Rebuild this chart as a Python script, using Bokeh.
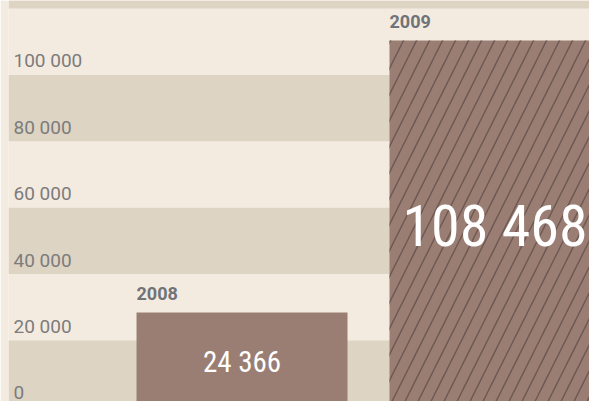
from bokeh.plotting import figure
from bokeh.models import ColumnDataSource, Range1d
from bokeh.core.properties import value
from bokeh.embed import file_html
from bokeh.resources import INLINE

# ---- data ----
YEARS = ["2008", "2009"]
VALUES = [24366, 108468]
TICKS = [0, 20000, 40000, 60000, 80000, 100000]
TICK_LABELS = ["0", "20 000", "40 000", "60 000", "80 000", "100 000"]
BAND_STARTS = [0, 40000, 80000, 120000]
BAND_STEP = 20000

# ---- styles ----
LIGHT = "#f4ebe0"
DARK = "#ddd4c4"
BAR = "#9a7e74"
HATCH = "#6e5952"
GRAY = "#7c7c7c"
YEAR_GRAY = "#707378"
NUM_FONT = "Roboto Condensed, Liberation Sans Narrow, Roboto"

W, H = 589, 401
X_RANGE = Range1d(-0.923, 1.3735)
Y_RANGE = Range1d(-3154, 120835)
BAR_W = 0.834

p = figure(width=W, height=H, output_backend="svg", toolbar_location=None,
           x_range=X_RANGE, y_range=Y_RANGE, x_axis_type=None, y_axis_type=None,
           min_border=0, min_border_left=8, outline_line_color=None,
           background_fill_color=LIGHT, border_fill_color=LIGHT)
p.grid.visible = False
p.extra_y_ranges = {"grid": Range1d(1627, 122410)}

# bands
band_src = ColumnDataSource(dict(y=[b + BAND_STEP / 2 for b in BAND_STARTS]))
p.hbar(y="y", height=BAND_STEP, left=X_RANGE.start - 1, right=X_RANGE.end + 1,
       source=band_src, y_range_name="grid", fill_color=DARK, line_color=None)

# tick labels
tick_src = ColumnDataSource(dict(x=[X_RANGE.start] * len(TICKS), y=TICKS, t=TICK_LABELS))
p.text(x="x", y="y", text="t", source=tick_src, y_range_name="grid",
       x_offset=5, y_offset=-14, text_align="left", text_baseline="alphabetic",
       text_font=value("Roboto"), text_font_size="19px", text_color=GRAY)

# bars
xs = list(range(len(YEARS)))
bar_src = ColumnDataSource(dict(
    x=xs, top=VALUES, hatch=[" ", "/"],
    left=[x - BAR_W / 2 for x in xs],
    mid=[v / 2 for v in VALUES],
    label=[f"{v:,}".replace(",", " ") for v in VALUES],
    year=YEARS,
    size=["29px", "58px"],
))
p.vbar(x="x", top="top", bottom=Y_RANGE.start, width=BAR_W, source=bar_src,
       fill_color=BAR, line_color=None, hatch_pattern="hatch",
       hatch_color=HATCH, hatch_scale=26, hatch_weight=1.5)

# year labels
p.text(x="left", y="top", text="year", source=bar_src, y_offset=-19,
       text_align="left", text_baseline="alphabetic",
       text_font=value("Roboto"), text_font_style="bold", text_font_size="18px",
       text_color=YEAR_GRAY)

# value labels
p.text(x="x", y="mid", text="label", source=bar_src, y_offset=10,
       text_align="center", text_baseline="middle",
       text_font=value(NUM_FONT), text_font_size="size",
       text_color="white")

open("out.html", "w").write(file_html(p, INLINE))
